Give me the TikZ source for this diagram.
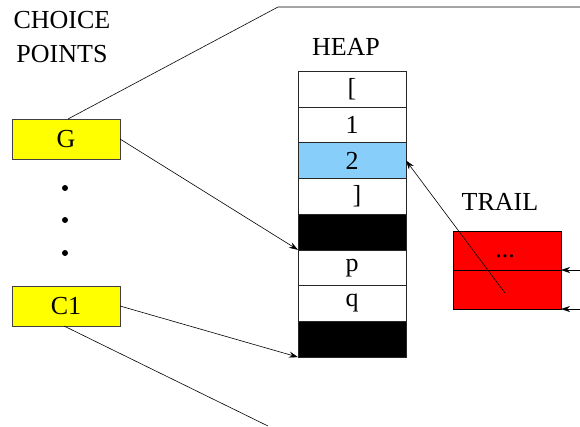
\documentclass[tikz,border=0pt]{standalone}
\usepackage{fontspec}
\setmainfont{Liberation Serif}
\usetikzlibrary{arrows.meta, positioning}

\definecolor{cpyellow}{RGB}{255,255,0}
\definecolor{cellblue}{RGB}{135,206,250}
\definecolor{trailred}{RGB}{255,0,0}

\begin{document}
\begin{tikzpicture}[
  x=1pt, y=-1pt,
  font=\fontsize{26}{34}\selectfont,
  >={Stealth[length=9pt, width=6pt, inset=3pt]},
  node distance=0pt,
  cp/.style={draw=black!75, fill=cpyellow, line width=0.7pt, minimum width=108pt, minimum height=40pt, inner sep=0pt, outer sep=0pt},
  cell/.style={draw=black!85, fill=white, line width=0.7pt, minimum width=108pt, minimum height=35.75pt, inner sep=0pt, outer sep=0pt},
  blk/.style={cell, fill=black},
  trailbox/.style={draw=black, fill=trailred, line width=0.7pt, minimum width=108pt, minimum height=39pt, inner sep=0pt, outer sep=0pt},
  dot/.style={circle, fill=black, inner sep=0pt, minimum size=6pt},
  arrow/.style={->, line width=0.6pt},
  link/.style={line width=0.6pt}
]
\useasboundingbox (0,0) rectangle (580,426);

% choice point stack
\node[align=center] (cplabel) at (62,37) {CHOICE\\POINTS};
\node[cp] (g) at (66,139) {G};
\node[dot] (d1) at (65,188) {};
\node[dot] (d2) at (65,220) {};
\node[dot] (d3) at (65,253) {};
\node[cp] (c1) at (66,306) {C1};

% heap cells
\node (heaplabel) at (346,47) {HEAP};
\node[cell] (h1) at (352,89) {[};
\node[cell, below=of h1] (h2) {1};
\node[cell, below=of h2, fill=cellblue] (h3) {2};
\node[cell, below=of h3] (h4) {\hspace{10pt}]};
\node[blk, below=of h4] (h5) {};
\node[cell, below=of h5] (h6) {p};
\node[cell, below=of h6] (h7) {q};
\node[blk, below=of h7] (h8) {};

% trail
\node (traillabel) at (500,202) {TRAIL};
\node[trailbox, anchor=north west] (tr1) at (453,231) {};
\node[trailbox, below=of tr1] (tr2) {};
\node (trdots) at (505,256) {...};
\coordinate (trentry) at (505,293);

% links out of the picture
\coordinate (gbend) at (278,7);
\coordinate (gend) at (580,7);
\coordinate (c1end) at (268,426);
\coordinate (tin1) at (580,270);
\coordinate (tin2) at (580,309);

\draw[link] ([xshift=2pt]g.north) -- (gbend) -- (gend);
\draw[link] ([xshift=-2pt]c1.south) -- (c1end);
\draw[arrow] (g.east) -- (h5.south west);
\draw[arrow] (c1.east) -- (h8.south west);
\draw[arrow] (trentry) -- (h3.east);
\draw[arrow] (tin1) -- (tr1.south east);
\draw[arrow] (tin2) -- (tr2.south east);
\end{tikzpicture}
\end{document}
